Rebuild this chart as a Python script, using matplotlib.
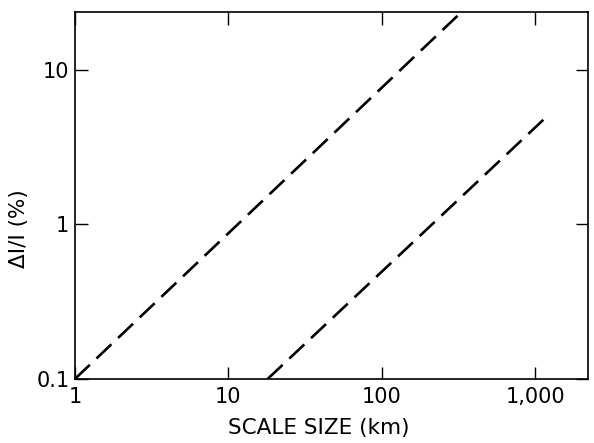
import numpy as np
import matplotlib.pyplot as plt
from matplotlib.ticker import FixedLocator, NullLocator

# Datos (extremos de cada recta en escala log-log)
linea1_x = [1, 330]
linea1_y = [0.1, 23.7]
linea2_x = [18, 1180]
linea2_y = [0.1, 4.97]

x_ticks = [1, 10, 100, 1000]
x_labels = ['1', '10', '100', '1,000']
y_ticks = [0.1, 1, 10]
y_labels = ['0.1', '1', '10']

plt.rcParams['font.family'] = ['DejaVu Sans']

fig = plt.figure(figsize=(5.94, 4.43), dpi=100)
ax = fig.add_axes([0.126, 0.1445, 0.864, 0.8285])

# Rectas discontinuas
ax.plot(linea1_x, linea1_y, color='black', lw=1.9, dashes=(7.8, 3.5))
ax.plot(linea2_x, linea2_y, color='black', lw=1.9, dashes=(7.8, 3.5))

ax.set_xscale('log')
ax.set_yscale('log')
ax.set_xlim(1, 2200)
ax.set_ylim(0.1, 23.7)

ax.xaxis.set_major_locator(FixedLocator(x_ticks))
ax.xaxis.set_minor_locator(NullLocator())
ax.yaxis.set_major_locator(FixedLocator(y_ticks))
ax.yaxis.set_minor_locator(NullLocator())
ax.set_xticklabels(x_labels)
ax.set_yticklabels(y_labels)

ax.tick_params(which='major', direction='in', length=9, width=1.0,
               top=True, right=True, labelsize=15, pad=6)
ax.tick_params(axis='y', pad=4)
for s in ax.spines.values():
    s.set_linewidth(1.2)

ax.set_xlabel('SCALE SIZE (km)', fontsize=15.5)
ax.xaxis.set_label_coords(0.476, -0.105)
ax.set_ylabel('ΔI/I (%)', fontsize=15.5)
ax.yaxis.set_label_coords(-0.09, 0.41)

plt.savefig('out.png', dpi=100)
